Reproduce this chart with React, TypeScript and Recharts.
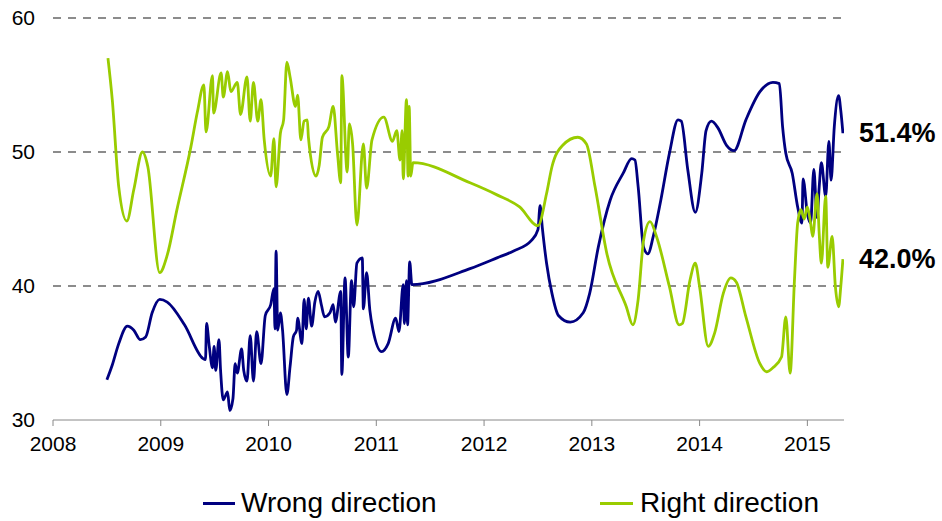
import { LineChart, Line, XAxis, YAxis, ReferenceLine, Legend, LabelList } from 'recharts'

document.body.style.margin = '0'

const FONT = '"Liberation Sans", Arial, sans-serif'
const NAVY = '#000080'
const GREEN = '#99cc00'

const yearTicks = [2008, 2009, 2010, 2011, 2012, 2013, 2014, 2015]
const valueTicks = [30, 40, 50, 60]
const gridValues = [40, 50, 60]

// Wrong direction (%)
const wrongYears = [
  2008.5, 2008.55, 2008.61, 2008.69, 2008.75, 2008.81, 2008.86, 2008.92, 2008.99, 2009.06,
  2009.22, 2009.39, 2009.415, 2009.425, 2009.45, 2009.48, 2009.495, 2009.51, 2009.54, 2009.555,
  2009.58, 2009.62, 2009.64, 2009.67, 2009.69, 2009.71, 2009.75, 2009.77, 2009.8, 2009.83,
  2009.86, 2009.89, 2009.93, 2009.97, 2010.02, 2010.05, 2010.06, 2010.07, 2010.085, 2010.11,
  2010.13, 2010.17, 2010.2, 2010.23, 2010.26, 2010.27, 2010.31, 2010.33, 2010.35, 2010.37,
  2010.4, 2010.43, 2010.46, 2010.49, 2010.52, 2010.57, 2010.6, 2010.62, 2010.67, 2010.68,
  2010.71, 2010.74, 2010.77, 2010.79, 2010.82, 2010.87, 2010.88, 2010.91, 2010.94, 2010.97,
  2011.05, 2011.11, 2011.18, 2011.21, 2011.25, 2011.26, 2011.28, 2011.29, 2011.31, 2011.33,
  2011.87, 2012.12, 2012.27, 2012.44, 2012.5, 2012.52, 2012.54, 2012.58, 2012.63, 2012.69,
  2012.8, 2012.92, 2012.98, 2013.06, 2013.17, 2013.29, 2013.37, 2013.4, 2013.43, 2013.48,
  2013.52, 2013.57, 2013.64, 2013.72, 2013.8, 2013.83, 2013.89, 2013.96, 2014.02, 2014.06,
  2014.11, 2014.17, 2014.25, 2014.32, 2014.43, 2014.56, 2014.68, 2014.74, 2014.77, 2014.8,
  2014.86, 2014.91, 2014.95, 2014.96, 2015.0, 2015.03, 2015.06, 2015.09, 2015.11, 2015.13,
  2015.17, 2015.2, 2015.22, 2015.25, 2015.29, 2015.31, 2015.33,
]
const wrongValues = [
  33.0, 34.1, 35.7, 37.0, 36.7, 36.0, 36.2, 38.0, 39.0, 38.8,
  37.1, 34.6, 34.5, 37.2, 35.5, 33.9, 35.5, 33.7, 36.0, 33.7,
  31.5, 32.1, 30.7, 31.6, 34.2, 33.5, 35.3, 33.7, 32.9, 36.3,
  32.9, 36.6, 34.2, 37.8, 38.6, 39.8, 36.8, 42.6, 36.7, 38.0,
  36.7, 31.9, 34.0, 36.2, 36.7, 37.6, 35.7, 39.0, 36.8, 39.1,
  37.0, 38.8, 39.6, 38.6, 37.7, 38.0, 38.6, 37.3, 39.6, 33.4,
  40.6, 34.7, 40.4, 38.45, 41.7, 42.1, 38.3, 41.0, 38.2, 36.7,
  35.1, 35.7, 37.6, 36.6, 40.1, 37.2, 40.4, 37.1, 41.8, 40.1,
  41.3, 42.1, 42.6, 43.4, 44.2, 46.0, 44.4, 41.7, 39.45, 37.8,
  37.3, 38.0, 39.45, 42.9, 46.4, 48.4, 49.5, 49.4, 47.4, 42.9,
  42.4, 43.7, 46.4, 49.9, 52.4, 52.3, 48.7, 45.5, 48.4, 51.6,
  52.3, 51.8, 50.5, 50.1, 52.4, 54.5, 55.2, 55.1, 51.9, 49.9,
  48.4, 45.9, 44.7, 48.0, 45.4, 44.7, 48.7, 45.1, 47.4, 49.2,
  46.7, 50.8, 47.9, 51.9, 54.2, 53.1, 51.4,
]

// Right direction (%)
const rightYears = [
  2008.51, 2008.55, 2008.61, 2008.685, 2008.75, 2008.83, 2008.88, 2008.99, 2009.06, 2009.15,
  2009.28, 2009.34, 2009.4, 2009.42, 2009.48, 2009.49, 2009.56, 2009.58, 2009.62, 2009.65,
  2009.71, 2009.74, 2009.8, 2009.83, 2009.86, 2009.9, 2009.93, 2009.96, 2010.02, 2010.05,
  2010.07, 2010.11, 2010.14, 2010.17, 2010.2, 2010.25, 2010.27, 2010.3, 2010.33, 2010.36,
  2010.37, 2010.44, 2010.47, 2010.5, 2010.56, 2010.6, 2010.64, 2010.67, 2010.68, 2010.73,
  2010.75, 2010.78, 2010.82, 2010.88, 2010.91, 2010.96, 2011.07, 2011.15, 2011.19, 2011.22,
  2011.24, 2011.25, 2011.28, 2011.295, 2011.305, 2011.32, 2011.34, 2011.87, 2012.12, 2012.33,
  2012.5, 2012.58, 2012.63, 2012.73, 2012.87, 2012.95, 2013.03, 2013.14, 2013.32, 2013.38,
  2013.43, 2013.48, 2013.54, 2013.6, 2013.72, 2013.81, 2013.84, 2013.91, 2013.96, 2014.0,
  2014.08, 2014.14, 2014.22, 2014.29, 2014.34, 2014.43, 2014.56, 2014.62, 2014.68, 2014.76,
  2014.8, 2014.84, 2014.88, 2014.91, 2014.94, 2014.97, 2015.0, 2015.03, 2015.05, 2015.09,
  2015.11, 2015.13, 2015.17, 2015.19, 2015.23, 2015.26, 2015.29, 2015.31, 2015.33,
]
const rightValues = [
  57.0, 53.9, 47.4, 44.85, 47.2, 50.0, 48.9, 41.0, 42.3, 45.7,
  50.4, 53.0, 55.0, 51.5, 55.7, 52.9, 55.9, 54.1, 56.0, 54.5,
  55.2, 52.8, 55.6, 52.3, 55.2, 52.3, 53.9, 50.9, 48.2, 51.0,
  47.4, 51.4, 52.4, 56.7, 55.6, 53.4, 54.25, 50.9, 52.3, 52.4,
  51.1, 48.2, 49.0, 51.1, 51.9, 53.4, 49.9, 47.7, 55.7, 48.5,
  52.1, 50.6, 44.55, 50.6, 47.3, 50.9, 52.6, 50.8, 51.6, 49.4,
  51.6, 48.0, 53.9, 48.2, 53.4, 48.2, 49.2, 47.7, 46.8, 45.9,
  44.5, 46.9, 48.9, 50.5, 51.1, 50.6, 47.4, 42.4, 38.45, 37.1,
  39.0, 43.4, 44.8, 43.7, 39.95, 37.1, 37.2, 40.4, 41.7, 39.95,
  35.5, 36.5, 39.45, 40.6, 40.3, 37.7, 34.2, 33.6, 33.9, 34.7,
  37.7, 33.5, 40.4, 44.7, 45.7, 45.0, 45.9, 44.7, 43.7, 46.9,
  43.9, 41.7, 46.7, 41.4, 43.7, 39.95, 38.45, 39.95, 42.0,
]

const wrongData = wrongYears.map((year, i) => ({ year, value: wrongValues[i] }))
const rightData = rightYears.map((year, i) => ({ year, value: rightValues[i] }))

// value label only at the last point of a series
const endLabel = (lastIndex: number) => (props: any) => {
  const { x, y, value, index } = props
  if (index !== lastIndex) return null
  return (
    <text x={x + 16} y={y} dominantBaseline="central" fontFamily={FONT} fontSize={27} fontWeight="bold" fill="#000">
      {`${Number(value).toFixed(1)}%`}
    </text>
  )
}

const renderLegend = () => (
  <div style={{ position: 'relative', width: 942, height: 30, fontFamily: FONT, fontSize: 28, color: '#000' }}>
    <div style={{ position: 'absolute', left: 203, top: 14, width: 32, height: 3, background: NAVY }} />
    <span style={{ position: 'absolute', left: 241, top: 0, lineHeight: '30px', whiteSpace: 'nowrap' }}>Wrong direction</span>
    <div style={{ position: 'absolute', left: 600, top: 14, width: 33, height: 3, background: GREEN }} />
    <span style={{ position: 'absolute', left: 640, top: 0, lineHeight: '30px', whiteSpace: 'nowrap' }}>Right direction</span>
  </div>
)

export default function App() {
  const tickStyle = { fill: '#000', fontSize: 21, fontFamily: FONT }

  return (
    <div style={{ width: 942, height: 521, background: '#fff' }}>
      <LineChart width={942} height={521} margin={{ top: 18, right: 98, left: 0, bottom: 0 }}>
        <XAxis
          type="number"
          dataKey="year"
          domain={[2008, 2015.34]}
          allowDataOverflow
          ticks={yearTicks}
          tick={tickStyle}
          tickSize={6}
          tickMargin={10}
          height={71}
          stroke="#888"
        />
        <YAxis
          type="number"
          domain={[30, 60]}
          ticks={valueTicks}
          tick={tickStyle}
          width={53}
          axisLine={false}
          tickLine={false}
          tickSize={0}
          tickMargin={18}
        />
        {gridValues.map((v) => (
          <ReferenceLine key={v} y={v} stroke="#1a1a1a" strokeDasharray="8 7" strokeWidth={1.2} />
        ))}
        <Legend
          content={renderLegend}
          height={30}
          wrapperStyle={{ left: 0, top: 488, width: 942, height: 30 }}
        />
        <Line
          data={wrongData}
          dataKey="value"
          name="Wrong direction"
          type="monotone"
          stroke={NAVY}
          strokeWidth={2.8}
          dot={false}
          activeDot={false}
          isAnimationActive={false}
        >
          <LabelList dataKey="value" content={endLabel(wrongData.length - 1)} />
        </Line>
        <Line
          data={rightData}
          dataKey="value"
          name="Right direction"
          type="monotone"
          stroke={GREEN}
          strokeWidth={2.8}
          dot={false}
          activeDot={false}
          isAnimationActive={false}
        >
          <LabelList dataKey="value" content={endLabel(rightData.length - 1)} />
        </Line>
      </LineChart>
    </div>
  )
}
